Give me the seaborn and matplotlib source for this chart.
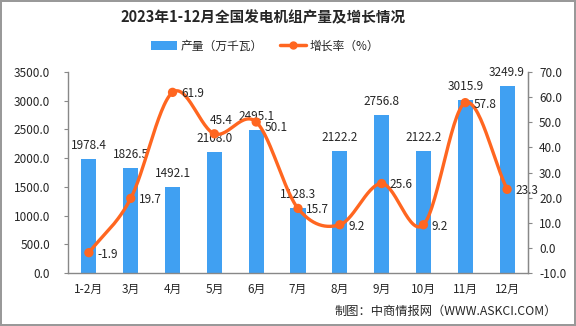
import numpy as np
import pandas as pd
import matplotlib
matplotlib.use("Agg")
import matplotlib.pyplot as plt
import seaborn as sns
from matplotlib.lines import Line2D
from matplotlib.patches import Patch

months = ["1-2月", "3月", "4月", "5月", "6月", "7月", "8月", "9月", "10月", "11月", "12月"]
output = [1978.4, 1826.5, 1492.1, 2108.0, 2495.1, 1128.3, 2122.2, 2756.8, 2122.2, 3015.9, 3249.9]
growth = [-1.9, 19.7, 61.9, 45.4, 50.1, 15.7, 9.2, 25.6, 9.2, 57.8, 23.3]
left_ticks = [0, 500, 1000, 1500, 2000, 2500, 3000, 3500]
right_ticks = [-10, 0, 10, 20, 30, 40, 50, 60, 70]

sns.set_style("white")
plt.rcParams['font.family'] = ['Noto Sans CJK SC', 'DejaVu Sans']

BAR = "#40A0F2"
LINE = "#FF6620"
GRID = "#888888"
FS = 8.5

fig = plt.figure(figsize=(5.76, 3.26), dpi=100)
fig.patch.set_edgecolor("#999999")
fig.patch.set_linewidth(1.5)
ax = fig.add_axes([68/576, 1-273/326, 460/576, 201/326])

df = pd.DataFrame({"month": months, "output": output, "growth": growth})
sns.barplot(data=df, x="month", y="output", color=BAR, width=0.36, ax=ax,
            saturation=1, edgecolor="none")
ax.set_xlim(-0.5, len(months)-0.5)
ax.set_ylim(0, 3500)
ax.set_yticks(left_ticks)
ax.set_yticklabels([f"{v:.1f}" for v in left_ticks], fontsize=FS)
ax.set_xlabel("")
ax.set_ylabel("")
ax.set_xticks(range(len(months)))
ax.set_xticklabels(months, fontsize=FS)
ax.tick_params(axis="x", length=0, pad=7)
ax.set_xticks(np.arange(-0.5, len(months)), minor=True)
ax.tick_params(axis="x", which="minor", length=5, color=GRID, direction="out")
ax.tick_params(axis="y", length=3, color=GRID, direction="out", pad=10)
ax.spines["top"].set_visible(False)
for s in ["left", "bottom", "right"]:
    ax.spines[s].set_color(GRID)
    ax.spines[s].set_linewidth(1)

for i, v in enumerate(output):
    ax.annotate(f"{v:.1f}", (i, v), xytext=(0, 5), textcoords="offset points",
                ha="center", va="bottom", fontsize=FS)

ax2 = ax.twinx()
ax2.set_ylim(-10, 70)
ax2.set_yticks(right_ticks)
ax2.set_yticklabels([f"{v:.1f}" for v in right_ticks], fontsize=FS)
ax2.tick_params(axis="y", length=3, color=GRID, direction="out", pad=5)
for s in ["top", "left", "bottom"]:
    ax2.spines[s].set_visible(False)
ax2.spines["right"].set_color(GRID)

# smooth curve (Catmull-Rom) through the data points
xs = np.arange(len(growth), dtype=float)
ys = np.array(growth, dtype=float)
P = np.column_stack([xs, ys])
P_ext = np.vstack([P[0] - (P[1]-P[0]), P, P[-1] + (P[-1]-P[-2])])
curve = []
for k in range(1, len(P_ext)-2):
    p0, p1, p2, p3 = P_ext[k-1], P_ext[k], P_ext[k+1], P_ext[k+2]
    for t in np.linspace(0, 1, 30, endpoint=False):
        t2, t3 = t*t, t*t*t
        pt = 0.5*((2*p1) + (-p0+p2)*t + (2*p0-5*p1+4*p2-p3)*t2 + (-p0+3*p1-3*p2+p3)*t3)
        curve.append(pt)
curve.append(P[-1])
curve = np.array(curve)
ax2.plot(curve[:, 0], curve[:, 1], color=LINE, lw=2.4, solid_capstyle="round")
sns.scatterplot(x=xs, y=ys, color=LINE, s=45, edgecolor="none", ax=ax2, zorder=5)

# label placement: most to the right of the point, 5月 above it, 6月 a bit lower
label_offsets = {3: (-3, 5, "left", "bottom"), 4: (6, -4, "left", "center")}
for i, v in enumerate(growth):
    dx, dy, ha, va = label_offsets.get(i, (6, -1, "left", "center"))
    ax2.annotate(f"{v:.1f}", (i, v), xytext=(dx, dy), textcoords="offset points",
                 ha=ha, va=va, fontsize=FS)

fig.text(0.456, 1-17/326, "2023年1-12月全国发电机组产量及增长情况", ha="center", va="center",
         fontsize=10.5, fontweight="bold")
handles = [Patch(facecolor=BAR, edgecolor="none"),
           Line2D([0], [0], color=LINE, lw=2.5, marker="o", markersize=5)]
fig.legend(handles, ["产量（万千瓦）", "增长率（%）"], loc="center", bbox_to_anchor=(0.46, 1-46/326),
           ncol=2, frameon=False, fontsize=FS, handlelength=2.2, columnspacing=1.5,
           handletextpad=0.3)
fig.text(557/576, 1-311/326, "制图：中商情报网（WWW.ASKCI.COM）", ha="right", va="center", fontsize=8.8)

fig.savefig("out.png", dpi=100)
